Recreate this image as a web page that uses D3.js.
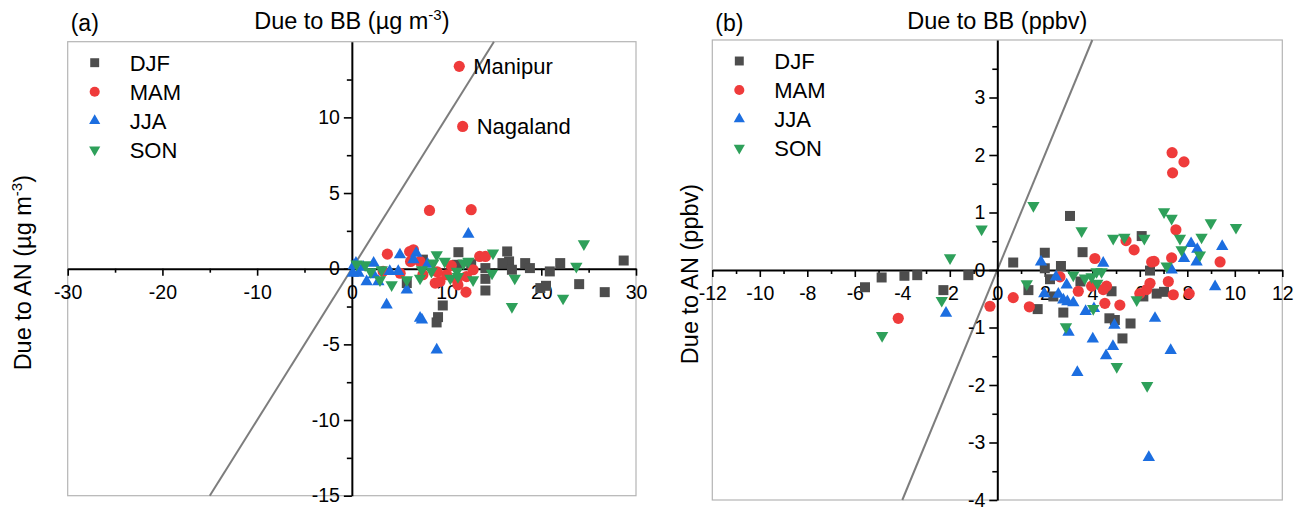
<!DOCTYPE html>
<html>
<head>
<meta charset="utf-8">
<script src="https://cdn.jsdelivr.net/npm/d3@7"></script>
<style>
  body { margin: 0; background: #fff; }
  svg { display: block; font-family: Arial, "Liberation Sans", sans-serif; }
</style>
</head>
<body>
<svg id="chart" width="1305" height="508"></svg>
<script>
// ---- data ----
// panel (a): AN vs BB, ug m-3
var aDJF = [[11.25,1.09],[16.4,1.14],[16.6,0.48],[15.9,0.37],[16.9,-0.07],[18.3,0.37],[18.8,0.04],[14.1,0.04],
    [14.1,-0.67],[14.1,-1.44],[20.9,-0.18],[22.0,0.37],[19.9,-1.28],[20.5,-1.13],[24.0,-1.02],[26.7,-1.55],
    [28.7,0.54],[9.6,-2.43],[9.1,-3.2],[8.95,-3.55],[5.8,-0.95],[11.1,0.26],[7.5,0.6],[12.6,0.3]];
var aMAM = [[3.75,0.96],[6.1,1.13],[6.2,0.48],[7.2,0.48],[7.5,-0.4],[8.8,-0.95],[9.3,-0.85],[11.1,-0.74],
    [11.2,-1.07],[12.05,-1.55],[13.5,0.81],[14.1,0.81],[12.8,-0.07],[12.1,-0.52],[10.0,-0.4],[8.2,3.85],
    [12.6,3.9],[11.34,13.37],[11.7,9.4],[5.1,-0.3],[3.3,-0.18],[6.5,1.25],[9.0,-0.2],[10.5,0.2]];
var aJJA = [[0.43,0.37],[0.7,-0.3],[1.56,-0.85],[2.3,0.37],[2.8,-0.85],[3.67,-2.39],[5.08,0.92],[5.8,-1.4],
    [6.8,1.03],[7.2,-3.27],[7.4,-3.38],[8.96,-5.37],[12.3,2.28],[4.0,-0.18],[4.9,-0.18],[2.3,-0.4],
    [0.1,-0.3],[1.2,0.1],[0.2,0.2],[6.5,0.6],[8.0,0.3]];
var aSON = [[1.4,0.25],[3.15,-0.07],[2.97,-0.74],[4.2,-1.07],[5.8,-0.74],[7.2,-0.63],[7.4,-0.07],[8.96,0.92],
    [9.8,0.48],[10.4,-0.63],[11.8,0.37],[12.3,0.48],[12.8,-0.74],[14.9,1.03],[14.8,-0.3],[17.2,-0.63],
    [16.9,-2.5],[22.3,-1.95],[23.7,0.15],[24.5,1.64],[8.4,-0.18],[11.1,-0.18],[11.2,-0.52],[8.6,0.37],
    [0.5,0.3],[2.0,-0.2]];

// panel (b): AN vs BB, ppbv
var bDJF = [[3.06,0.94],[2.0,0.30],[0.67,0.13],[3.59,0.31],[2.68,0.07],[6.08,0.59],[6.43,-0.01],[2.0,0.03],
    [2.22,-0.16],[1.31,-0.35],[1.7,-0.68],[2.78,-0.74],[2.36,-0.46],[4.81,-0.37],[6.15,-0.46],[6.71,-0.41],
    [7.02,-0.38],[4.72,-0.84],[4.95,-0.87],[5.61,-0.93],[5.27,-1.19],[-1.22,-0.09],[-5.57,-0.30],
    [-4.87,-0.13],[-3.91,-0.10],[-3.37,-0.09],[-2.27,-0.35],[3.5,-0.2]];
var bMAM = [[7.36,2.04],[7.86,1.88],[7.38,1.69],[7.52,0.70],[5.42,0.51],[5.76,0.35],[4.11,0.20],[6.5,0.14],
    [7.34,0.21],[9.38,0.14],[7.2,-0.2],[6.43,-0.23],[4.6,-0.28],[4.46,-0.34],[3.97,-0.28],[3.41,-0.37],
    [2.64,-0.12],[0.67,-0.48],[1.35,-0.64],[-0.31,-0.63],[6.0,-0.41],[6.29,-0.34],[7.41,-0.43],[8.08,-0.41],
    [4.53,-0.58],[5.16,-0.61],[-4.17,-0.84],[6.6,0.15]];
var bJJA = [[1.84,0.14],[4.46,0.12],[2.47,-0.12],[2.92,-0.26],[1.98,-0.41],[2.57,-0.42],[2.78,-0.52],[2.95,-0.55],
    [3.2,-0.57],[3.72,-0.72],[4.07,-0.67],[4.93,-0.96],[6.64,-0.84],[7.34,0.0],[7.86,0.2],[8.16,0.46],
    [8.42,0.36],[8.39,0.14],[9.47,0.41],[9.17,-0.29],[-2.16,-0.75],[3.37,-1.78],[3.0,-1.08],[4.02,-1.2],
    [4.58,-1.49],[4.87,-1.33],[6.38,-3.26],[7.3,-1.4]];
var bSON = [[-0.66,0.71],[1.52,1.12],[3.55,0.68],[4.88,0.55],[5.35,0.57],[6.19,0.55],[7.02,1.01],[7.34,0.90],
    [7.69,0.55],[7.76,0.35],[8.6,0.57],[8.99,0.82],[10.05,0.74],[8.53,0.26],[7.13,0.07],[3.2,-0.09],
    [3.69,-0.14],[3.97,-0.12],[4.18,-0.03],[4.39,-0.03],[4.21,-0.23],[4.04,-0.67],[1.24,-0.24],[5.87,-0.52],
    [2.89,-0.99],[-1.99,0.21],[-2.34,-0.53],[-4.85,-1.14],[5.03,-1.68],[6.31,-2.01]];

var seasons = ["DJF", "MAM", "JJA", "SON"];

// ticks
var aXTicks = [-30, -20, -10, 0, 10, 20, 30];
var aXMinor = [-25, -15, -5, 5, 15, 25];
var aYTicks = [-15, -10, -5, 0, 5, 10];
var aYMinor = [-12.5, -7.5, -2.5, 2.5, 7.5, 12.5];
var bXTicks = [-12, -10, -8, -6, -4, -2, 0, 2, 4, 6, 8, 10, 12];
var bXMinor = [-11, -9, -7, -5, -3, -1, 1, 3, 5, 7, 9, 11];
var bYTicks = [-4, -3, -2, -1, 0, 1, 2, 3];
var bYMinor = [-3.5, -2.5, -1.5, -0.5, 0.5, 1.5, 2.5, 3.5];

// labelled points in (a)
var aNotes = [["Manipur", 11.34, 13.37], ["Nagaland", 11.7, 9.4]];

// ---- style ----
var color = { DJF: "#4d4d4d", MAM: "#ef3b3b", JJA: "#1c6ee0", SON: "#2ea05a" };
var shape = { DJF: d3.symbolSquare, MAM: d3.symbolCircle, JJA: d3.symbolTriangle, SON: d3.symbolTriangle };
var markSize = { DJF: 100, MAM: 98, JJA: 66, SON: 66 };
var legSize = { DJF: 80, MAM: 80, JJA: 54, SON: 54 };

// plain hyphen minus like the original
var fmt = function (d) { return String(d); };

var svg = d3.select("#chart");

function drawPanel(p) {
    var x = d3.scaleLinear().domain(p.xDom).range([p.left, p.right]);
    var y = d3.scaleLinear().domain(p.yDom).range([p.bottom, p.top]);
    var g = svg.append("g");

    // frame
    g.append("rect")
        .attr("x", p.left).attr("y", p.top)
        .attr("width", p.right - p.left).attr("height", p.bottom - p.top)
        .attr("fill", "none").attr("stroke", "#b4b4b4").attr("stroke-width", 1.2);

    // 1:1 line
    var lo = Math.max(p.xDom[0], p.yDom[0]), hi = Math.min(p.xDom[1], p.yDom[1]);
    g.append("line")
        .attr("x1", x(lo)).attr("y1", y(lo)).attr("x2", x(hi)).attr("y2", y(hi))
        .attr("stroke", "#7d7d7d").attr("stroke-width", 2);

    // x axis through y=0
    var xMinor = g.append("g").attr("transform", "translate(0," + y(0) + ")")
        .call(d3.axisBottom(x).tickValues(p.xMinor).tickSize(4).tickFormat(""));
    var xAx = g.append("g").attr("transform", "translate(0," + y(0) + ")")
        .call(d3.axisBottom(x).tickValues(p.xTicks).tickFormat(fmt).tickSizeInner(7).tickSizeOuter(0).tickPadding(9));
    // y axis through x=0
    var yMinor = g.append("g").attr("transform", "translate(" + x(0) + ",0)")
        .call(d3.axisLeft(y).tickValues(p.yMinor).tickSize(5).tickFormat(""));
    var yAx = g.append("g").attr("transform", "translate(" + x(0) + ",0)")
        .call(d3.axisLeft(y).tickValues(p.yTicks).tickFormat(fmt).tickSizeInner(8).tickSizeOuter(0).tickPadding(4));

    [xMinor, xAx, yMinor, yAx].forEach(function (a) {
        a.selectAll("path.domain").attr("stroke", "#000").attr("stroke-width", 2);
        a.selectAll(".tick line").attr("stroke", "#000").attr("stroke-width", 1.6);
        a.selectAll("text").attr("font-size", 19.5).attr("fill", "#000")
            .attr("font-family", "Arial, 'Liberation Sans', sans-serif");
    });
    xMinor.select("path.domain").remove();
    yMinor.select("path.domain").remove();

    // points
    seasons.forEach(function (s) {
        g.append("g").selectAll("path")
            .data(p.series[s])
            .enter().append("path")
            .attr("d", d3.symbol().type(shape[s]).size(markSize[s]))
            .attr("transform", function (d) {
                return "translate(" + x(d[0]) + "," + y(d[1]) + ")" + (s == "SON" ? " rotate(180)" : "");
            })
            .attr("fill", color[s]);
    });

    // legend
    seasons.forEach(function (s, i) {
        var ly = p.top + 21 + i * 29;
        g.append("path")
            .attr("d", d3.symbol().type(shape[s]).size(legSize[s]))
            .attr("transform", "translate(" + (p.left + 27) + "," + ly + ")" + (s == "SON" ? " rotate(180)" : ""))
            .attr("fill", color[s]);
        g.append("text")
            .attr("x", p.left + 62).attr("y", ly).attr("dy", "0.36em")
            .attr("font-size", 22).text(s);
    });

    // panel letter
    g.append("text").attr("x", p.left + 3).attr("y", 31).attr("font-size", 23).text(p.letter);

    // top title
    var t = g.append("text").attr("x", x(0)).attr("y", 29)
        .attr("text-anchor", "middle").attr("font-size", 23.5);
    t.append("tspan").text("Due to BB (" + p.unit);
    if (p.sup) {
        t.append("tspan").attr("dy", -9).attr("font-size", 15).text(p.sup);
        t.append("tspan").attr("dy", 9).text(")");
    } else {
        t.append("tspan").text(")");
    }

    // left title
    var yl = g.append("text")
        .attr("transform", "translate(" + p.yLabX + "," + (y(0) + 4) + ") rotate(-90)")
        .attr("text-anchor", "middle").attr("font-size", 23.5);
    yl.append("tspan").text("Due to AN (" + p.unit);
    if (p.sup) {
        yl.append("tspan").attr("dy", -9).attr("font-size", 15).text(p.sup);
        yl.append("tspan").attr("dy", 9).text(")");
    } else {
        yl.append("tspan").text(")");
    }

    // notes
    (p.notes || []).forEach(function (n) {
        g.append("text")
            .attr("x", x(n[1]) + 14).attr("y", y(n[2])).attr("dy", "0.36em")
            .attr("font-size", 22).text(n[0]);
    });
}

drawPanel({
    letter: "(a)", unit: "\u00b5g m", sup: "-3",
    left: 67.7, right: 636, top: 41.7, bottom: 495.7, yLabX: 31,
    xDom: [-30, 30], yDom: [-15, 15],
    xTicks: aXTicks, xMinor: aXMinor, yTicks: aYTicks, yMinor: aYMinor,
    series: { DJF: aDJF, MAM: aMAM, JJA: aJJA, SON: aSON },
    notes: aNotes
});

drawPanel({
    letter: "(b)", unit: "ppbv", sup: null,
    left: 712.3, right: 1282.3, top: 40, bottom: 500, yLabX: 698,
    xDom: [-12, 12], yDom: [-4, 4],
    xTicks: bXTicks, xMinor: bXMinor, yTicks: bYTicks, yMinor: bYMinor,
    series: { DJF: bDJF, MAM: bMAM, JJA: bJJA, SON: bSON }
});
</script>
</body>
</html>
